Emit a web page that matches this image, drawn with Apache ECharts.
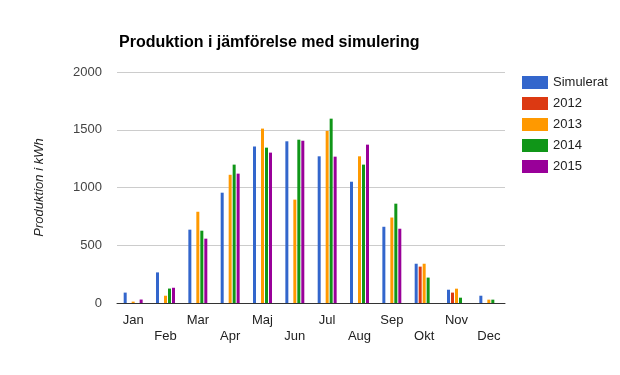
<!DOCTYPE html>
<html>
<head>
<meta charset="utf-8">
<script src="https://cdn.jsdelivr.net/npm/echarts@6/dist/echarts.min.js"></script>
<style>
  html, body { margin: 0; padding: 0; background: #fff; }
  #chart { width: 620px; height: 375px; }
</style>
</head>
<body>
<div id="chart"></div>
<script>
// månader och serier
var months = ['Jan', 'Feb', 'Mar', 'Apr', 'Maj', 'Jun', 'Jul', 'Aug', 'Sep', 'Okt', 'Nov', 'Dec'];
var seriesNames = ['Simulerat', '2012', '2013', '2014', '2015'];
var simulerat = [90, 265, 635, 955, 1355, 1400, 1270, 1050, 660, 340, 115, 63];
var y2012 = [0, 0, 0, 0, 0, 0, 0, 0, 0, 315, 90, 0];
var y2013 = [12, 63, 790, 1110, 1510, 895, 1490, 1270, 740, 340, 124, 29];
var y2014 = [0, 125, 626, 1198, 1345, 1414, 1596, 1198, 860, 220, 46, 29];
var y2015 = [30, 132, 557, 1120, 1302, 1405, 1267, 1371, 643, 0, 0, 0];
var yTicks = [0, 500, 1000, 1500, 2000];
var colors = ['#3366cc', '#dc3912', '#ff9900', '#109618', '#990099'];

var allData = [simulerat, y2012, y2013, y2014, y2015];

var myChart = echarts.init(document.getElementById('chart'));

var series = [];
for (var i = 0; i < seriesNames.length; i++) {
    series.push({
        name: seriesNames[i],
        type: 'bar',
        data: allData[i],
        barWidth: 3,
        barGap: '33%',
        itemStyle: { color: colors[i] }
    });
}

var option = {
    animation: false,
    textStyle: { fontFamily: 'Liberation Sans, Arial, sans-serif' },
    title: {
        text: 'Produktion i jämförelse med simulering',
        left: 114,
        top: 30,
        textStyle: { fontSize: 16, fontWeight: 'bold', color: '#000' }
    },
    legend: {
        orient: 'vertical',
        left: 517,
        top: 71,
        itemWidth: 26,
        itemHeight: 13,
        itemGap: 8,
        icon: 'rect',
        data: seriesNames,
        textStyle: { fontSize: 13, color: '#222' }
    },
    grid: { left: 117, right: 115, top: 72, bottom: 72 },
    xAxis: {
        type: 'category',
        data: months,
        axisLine: { lineStyle: { color: '#333', width: 1 } },
        axisTick: { show: false },
        axisLabel: {
            color: '#222',
            fontSize: 13,
            margin: 9,
            lineHeight: 16,
            interval: 0,
            formatter: function (v, idx) {
                return idx % 2 ? '\n' + v : v;
            }
        }
    },
    yAxis: {
        type: 'value',
        min: yTicks[0],
        max: yTicks[yTicks.length - 1],
        interval: 500,
        name: 'Produktion i kWh',
        nameLocation: 'middle',
        nameGap: 71,
        nameTextStyle: { fontStyle: 'italic', fontSize: 13, color: '#222' },
        axisLine: { show: false },
        axisTick: { show: false },
        axisLabel: {
            color: '#444',
            fontSize: 13,
            margin: 15,
            formatter: function (v) { return String(v); }
        },
        splitLine: { lineStyle: { color: '#cccccc' } }
    },
    series: series
};

myChart.setOption(option);
</script>
</body>
</html>
